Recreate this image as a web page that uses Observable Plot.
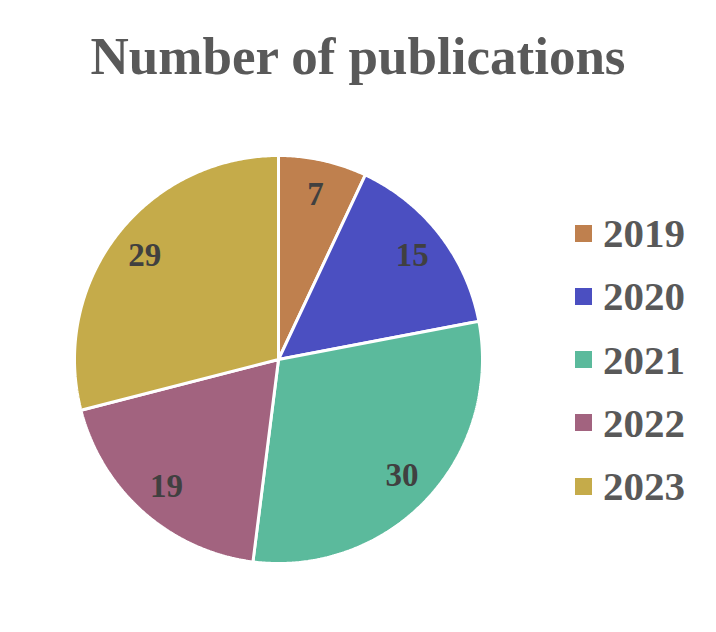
<!DOCTYPE html>
<html>
<head>
<meta charset="utf-8">
<script src="https://cdn.jsdelivr.net/npm/d3@7"></script>
<script src="https://cdn.jsdelivr.net/npm/@observablehq/plot@0.6"></script>
<style>
  html, body { margin: 0; padding: 0; background: #fff; }
  #wrap { position: relative; width: 716px; height: 632px; overflow: hidden; }
  #title { position: absolute; left: 0; top: 30px; width: 716px; text-align: center;
    font: bold 53px "Liberation Serif", "Times New Roman", serif; line-height: 53px; color: #595959; }
  #chart { position: absolute; left: 0; top: 100px; }
  #legend { position: absolute; left: 575px; top: 0; }
  .row { position: absolute; left: 0; display: flex; align-items: center; height: 44px; white-space: nowrap; }
  .sw { width: 17px; height: 17px; margin-right: 11px; }
  .lab { font: bold 41px "Liberation Serif", "Times New Roman", serif; line-height: 44px; color: #595959; }
</style>
</head>
<body>
<div id="wrap">
  <div id="title">Number of publications</div>
  <div id="chart"></div>
  <div id="legend"></div>
</div>
<script>
const years = ["2019", "2020", "2021", "2022", "2023"];
const counts = [7, 15, 30, 19, 29];
const colors = ["#BF804E", "#4B4FC1", "#5BBA9C", "#A2637F", "#C5AB4A"];

const data = years.map((year, i) => ({year, count: counts[i]}));
const arcs = d3.pie().sort(null).value(d => d.count)(data);

// polygon outline per slice in unit-circle data coordinates
const pts = [];
for (const a of arcs) {
  const yr = a.data.year;
  pts.push({year: yr, x: 0, y: 0});
  const n = Math.max(4, Math.ceil((a.endAngle - a.startAngle) / (Math.PI / 360)));
  for (let k = 0; k <= n; k++) {
    const t = a.startAngle + (a.endAngle - a.startAngle) * k / n;
    pts.push({year: yr, x: Math.sin(t), y: Math.cos(t)});
  }
}
const labels = arcs.map(a => {
  const m = (a.startAngle + a.endAngle) / 2;
  return {year: a.data.year, count: a.data.count, x: 0.83 * Math.sin(m), y: 0.83 * Math.cos(m)};
});

const cx = 278, cy = 259, r = 204;
const chart = Plot.plot({
  width: 716,
  height: 532,
  margin: 0,
  x: {domain: [-1, 1], range: [cx - r, cx + r], axis: null},
  y: {domain: [-1, 1], range: [cy + r, cy - r], axis: null},
  color: {domain: years, range: colors},
  style: {background: "transparent", overflow: "visible"},
  marks: [
    Plot.line(pts, {x: "x", y: "y", z: "year", fill: "year", stroke: "white", strokeWidth: 3, curve: "linear-closed", strokeLinejoin: "miter"}),
    Plot.text(labels, {x: "x", y: "y", text: d => String(d.count), fill: "#404040", fontSize: 33, fontWeight: "bold", fontFamily: "Liberation Serif, Times New Roman, serif"})
  ]
});
document.getElementById("chart").appendChild(chart);

const legend = document.getElementById("legend");
years.forEach((y, i) => {
  const row = document.createElement("div");
  row.className = "row";
  row.style.top = (233 + i * 63.3 - 22) + "px";
  const sw = document.createElement("div");
  sw.className = "sw";
  sw.style.background = colors[i];
  const lab = document.createElement("span");
  lab.className = "lab";
  lab.textContent = y;
  row.appendChild(sw);
  row.appendChild(lab);
  legend.appendChild(row);
});
</script>
</body>
</html>
